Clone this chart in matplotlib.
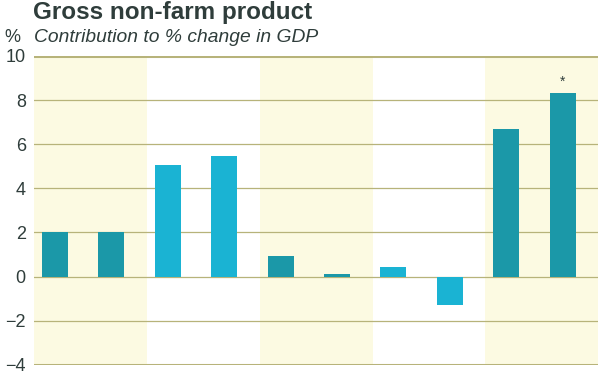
import matplotlib.pyplot as plt
import numpy as np

plt.rcParams['font.family'] = ['Liberation Sans', 'DejaVu Sans']

# contributions to % change in GDP, ten years
values = [2.0, 2.0, 5.05, 5.45, 0.95, 0.12, 0.45, -1.3, 6.7, 8.3]
yticks = [-4, -2, 0, 2, 4, 6, 8, 10]
ytick_labels = ['\u22124', '\u22122', '0', '2', '4', '6', '8', '10']

text_col = '#2f3d3b'
grid_col = '#b7b37a'
band_col = '#fcfae2'
teal = '#1b98a8'
cyan = '#1ab3d3'

fig = plt.figure(figsize=(6, 3.75), dpi=100)
ax = fig.add_axes([0.057, 0.027, 0.94, 0.824])

x = np.arange(len(values))
x0 = -0.37
ax.set_xlim(x0, x0 + 10)
ax.set_ylim(-4, 10)

# alternating shaded bands, two bars each
for b in range(5):
    if b % 2 == 0:
        ax.axvspan(x0 + 2 * b, x0 + 2 + 2 * b, color=band_col, zorder=0, lw=0)

colors = [teal if (i // 2) % 2 == 0 else cyan for i in x]
ax.bar(x, values, width=0.46, color=colors, zorder=3)

for t in yticks:
    lw = 2.2 if t in (-4, 10) else 0.9
    ax.axhline(t, color=grid_col, lw=lw, zorder=2)

ax.text(x[-1], values[-1] + 0.2, '*', ha='center', va='bottom',
        fontsize=10, color=text_col, zorder=4)

ax.set_yticks(yticks)
ax.set_yticklabels(ytick_labels)
ax.tick_params(axis='y', length=0, pad=6, labelsize=13, labelcolor=text_col)
ax.set_xticks([])
for s in ax.spines.values():
    s.set_visible(False)

fig.text(0.055, 0.948, 'Gross non-farm product', fontsize=17.5, fontweight='bold',
         color=text_col, ha='left', va='baseline')
fig.text(0.008, 0.888, '%', fontsize=13, color=text_col, ha='left', va='baseline')
fig.text(0.057, 0.888, 'Contribution to % change in GDP', fontsize=13.9,
         style='italic', color=text_col, ha='left', va='baseline')

fig.savefig('out.png', dpi=100)
